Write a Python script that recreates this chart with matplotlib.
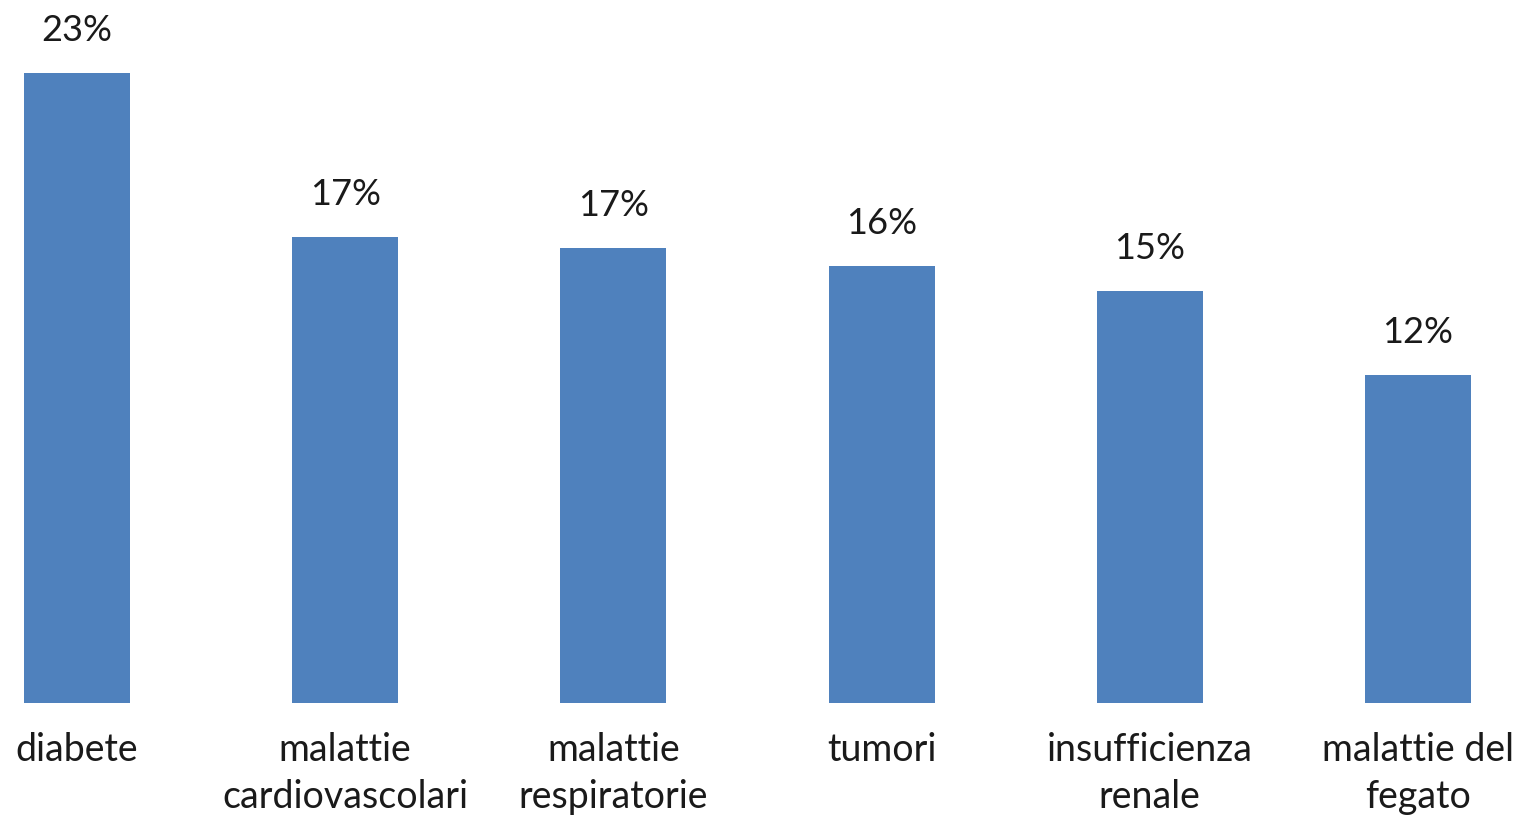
import numpy as np
import matplotlib
matplotlib.use("Agg")
import matplotlib.pyplot as plt

categorie = ["diabete", "malattie\ncardiovascolari", "malattie\nrespiratorie",
             "tumori", "insufficienza\nrenale", "malattie del\nfegato"]
valori = [23.0, 17.0, 16.6, 15.95, 15.05, 11.97]

plt.rcParams['font.family'] = ['Lato', 'DejaVu Sans']

fig = plt.figure(figsize=(15.28, 8.16), dpi=100)
ax = fig.add_axes([0, 0, 1, 1])

x = np.arange(len(categorie))
ax.bar(x, valori, width=0.395, color="#4F81BD")

for xi, v in zip(x, valori):
    ax.text(xi, v + 0.95, f"{v:.0f}%", ha="center", va="bottom",
            fontsize=26, color="#1a1a1a")

for xi, c in zip(x, categorie):
    ax.text(xi, -1.05, c, ha="center", va="top", fontsize=27,
            color="#1a1a1a", linespacing=1.38)

# pixel mapping: centre of first bar at 77px, spacing ~268px; baseline at y=703px
px_unit = 268.2
ax.set_xlim(-77 / px_unit, (1528 - 77) / px_unit)
py_unit = 630 / 23
ax.set_ylim(-113 / py_unit, (816 - 113) / py_unit)
ax.axis("off")

fig.savefig("out.png", dpi=100)
